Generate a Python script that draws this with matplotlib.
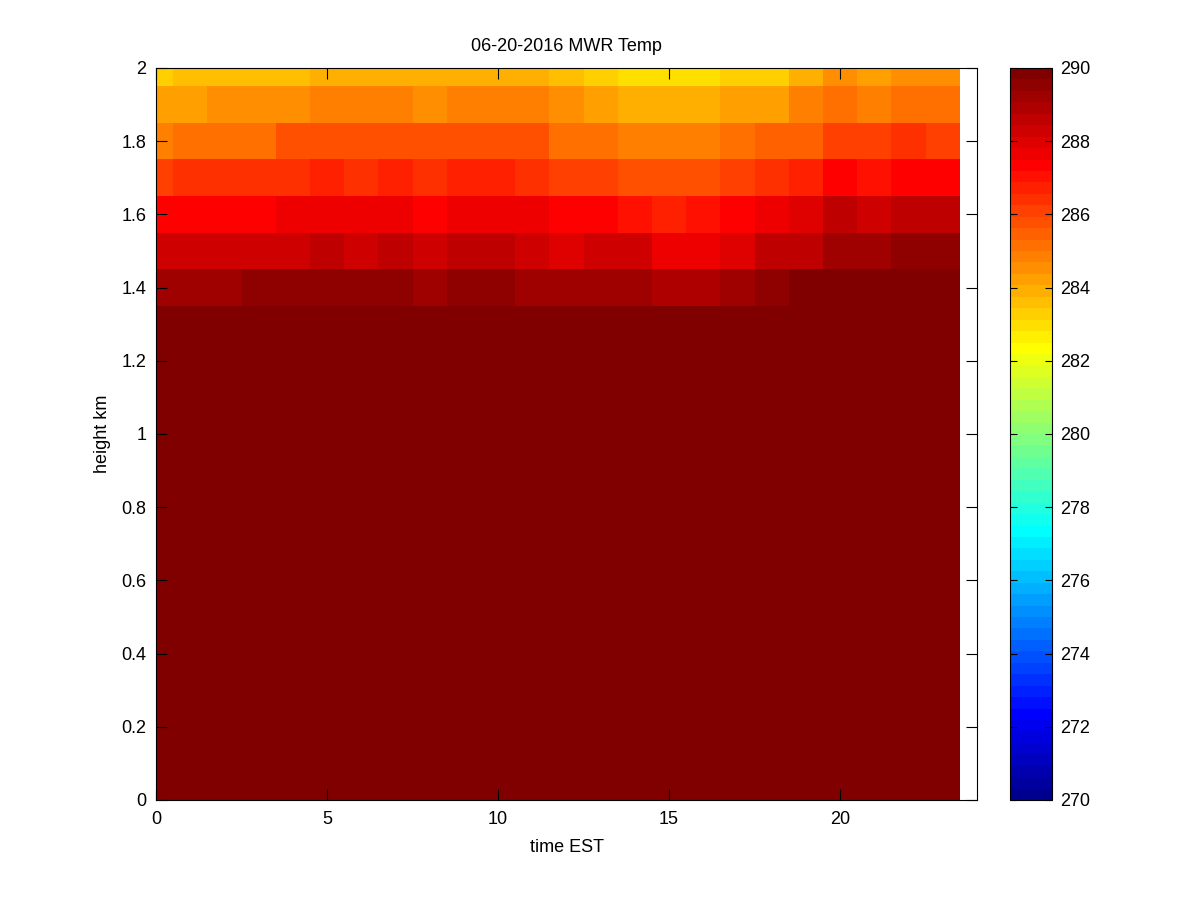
import matplotlib
matplotlib.use("Agg")
import matplotlib.pyplot as plt
from matplotlib.colors import ListedColormap
import numpy as np

plt.rcParams['font.family'] = ['Liberation Sans', 'DejaVu Sans']

# MWR temperature (K), hourly, 06-20-2016
hours = [0, 1, 2, 3, 4, 5, 6, 7, 8, 9, 10, 11, 12, 13, 14, 15, 16, 17, 18, 19, 20, 21, 22, 23]
heights = [0.0, 0.1, 0.2, 0.3, 0.4, 0.5, 0.6, 0.7, 0.8, 0.9, 1.0,
           1.1, 1.2, 1.3, 1.4, 1.5, 1.6, 1.7, 1.8, 1.9, 2.0]

# everything below 1.35 km is warmer than the colour scale top
below_temp = 291.0

t_14 = [289.19, 289.19, 289.19, 289.59, 289.59, 289.59, 289.59, 289.59, 289.19, 289.54, 289.54, 289.19,
        289.19, 289.19, 289.19, 288.89, 288.89, 289.19, 289.64, 291.0, 291.0, 291.0, 291.0, 291.0]
t_15 = [288.34, 288.34, 288.34, 288.34, 288.34, 288.54, 288.34, 288.54, 288.34, 288.54, 288.54, 288.34,
        288.04, 288.34, 288.14, 287.79, 287.79, 288.04, 288.54, 288.54, 289.19, 289.19, 289.54, 289.54]
t_16 = [287.34, 287.34, 287.34, 287.34, 287.69, 287.69, 287.69, 287.69, 287.34, 287.69, 287.69, 287.69,
        287.34, 287.34, 287.04, 286.74, 287.04, 287.34, 287.79, 288.04, 288.54, 288.24, 288.54, 288.54]
t_17 = [285.94, 286.34, 286.34, 286.34, 286.34, 286.74, 286.44, 286.74, 286.34, 286.74, 286.74, 286.54,
        286.04, 285.94, 285.74, 285.74, 285.74, 286.09, 286.44, 286.64, 287.24, 287.04, 287.24, 287.24]
t_18 = [284.94, 285.24, 285.24, 285.24, 285.64, 285.64, 285.64, 285.64, 285.64, 285.64, 285.64, 285.64,
        285.24, 285.24, 284.74, 284.74, 284.74, 285.16, 285.34, 285.47, 286.14, 286.14, 286.44, 286.09]
t_19 = [284.22, 284.22, 284.53, 284.53, 284.53, 284.84, 284.84, 284.84, 284.53, 284.84, 284.84, 284.84,
        284.53, 284.14, 283.84, 283.84, 283.84, 284.24, 284.24, 284.7, 285.3, 284.84, 285.14, 285.14]
t_20 = [283.24, 283.59, 283.59, 283.59, 283.59, 283.84, 283.84, 283.84, 283.84, 283.84, 283.84, 283.84,
        283.59, 283.34, 282.94, 282.94, 282.94, 283.24, 283.24, 283.91, 284.53, 284.22, 284.53, 284.53]

upper = [t_14, t_15, t_16, t_17, t_18, t_19, t_20]
temp = np.vstack([np.full((len(heights) - len(upper), len(hours)), below_temp), np.array(upper)])


def matlab_jet(n=64):
    # same construction as MATLAB's jet(n)
    m = int(np.ceil(n / 4))
    u = np.concatenate([np.arange(1, m + 1) / m, np.ones(m - 1), np.arange(m, 0, -1) / m])
    g = int(np.ceil(m / 2)) - (1 if n % 4 == 1 else 0) + np.arange(1, len(u) + 1)
    r = g + m
    b = g - m
    r = r[r <= n]
    b = b[b >= 1]
    J = np.zeros((n, 3))
    J[r - 1, 0] = u[:len(r)]
    J[g - 1, 1] = u[:len(g)]
    J[b - 1, 2] = u[len(u) - len(b):]
    return ListedColormap(J)


# cell edges from centres
hh = np.array(hours, dtype=float)
zz = np.array(heights)
x_edges = np.concatenate([hh - 0.5, [hh[-1] + 0.5]])
z_edges = np.concatenate([zz - 0.05, [zz[-1] + 0.05]])

fig = plt.figure(figsize=(12, 9), dpi=100)
ax = fig.add_axes([156/1200, 1 - 800/900, (977 - 156)/1200, (800 - 68)/900])
pc = ax.pcolormesh(x_edges, z_edges, temp, cmap=matlab_jet(64), vmin=270, vmax=290, shading='flat')
ax.set_xlim(0, 24)
ax.set_ylim(0, 2)
ax.set_xticks([0, 5, 10, 15, 20])
ax.set_yticks(np.arange(0, 2.01, 0.2))
ax.yaxis.set_major_formatter(matplotlib.ticker.FormatStrFormatter('%g'))
ax.tick_params(direction='in', top=True, right=True, length=8, labelsize=13, pad=8)
ax.tick_params(axis='y', pad=7)
ax.set_xlabel('time EST', fontsize=13, labelpad=8)
ax.set_ylabel('height km', fontsize=13, labelpad=7)
ax.set_title('06-20-2016 MWR Temp', fontsize=13, pad=12)

cax = fig.add_axes([1010/1200, 1 - 800/900, 42/1200, (800 - 68)/900])
cb = fig.colorbar(pc, cax=cax, ticks=np.arange(270, 291, 2))
cb.ax.tick_params(direction='in', left=True, right=True, length=5, labelsize=13, pad=6)

plt.savefig('out.png', dpi=100)
